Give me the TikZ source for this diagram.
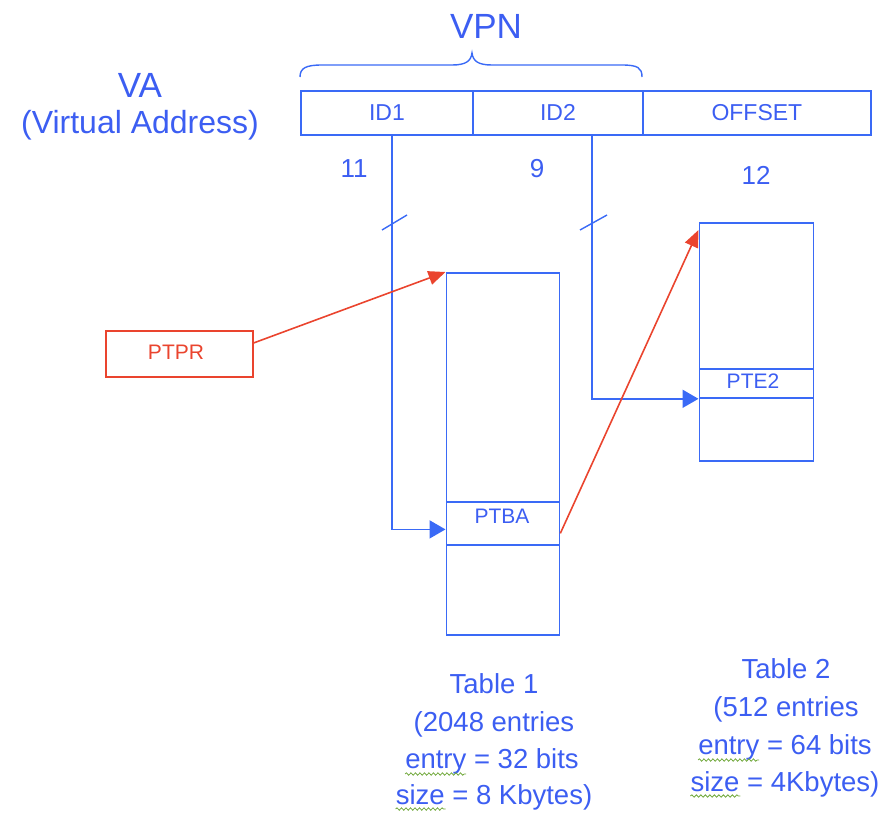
\documentclass[tikz,border=0pt]{standalone}
\usepackage{fontspec}
\setmainfont{Liberation Sans}
\usetikzlibrary{arrows.meta,decorations.pathmorphing}

\definecolor{lineblue}{RGB}{58,106,246}
\definecolor{textblue}{RGB}{60,94,242}
\definecolor{ptred}{RGB}{234,68,46}
\definecolor{spellgreen}{RGB}{112,168,58}
\newcommand\fsz[1]{\fontsize{#1}{#1}\selectfont}

\begin{document}
\begin{tikzpicture}[x=1pt,y=-1pt,
  field/.style={draw=lineblue,line width=1.8pt,minimum height=44pt,inner sep=0pt,
                anchor=north west,text=textblue,font=\fsz{23}},
  tbl/.style={draw=lineblue,line width=1.8pt,inner sep=0pt,anchor=north west},
  lbl/.style={text=textblue,inner sep=0pt,anchor=base},
  redlbl/.style={text=ptred,inner sep=0pt,anchor=base,font=\fsz{21}},
  redbox/.style={draw=ptred,line width=1.8pt,inner sep=0pt,anchor=north west},
  bluelink/.style={draw=lineblue,line width=1.8pt,-{Triangle[length=16pt,width=18pt]}},
  redlink/.style={draw=ptred,line width=1.6pt,-{Triangle[length=17pt,width=14pt]}},
  squig/.style={draw=spellgreen,line width=0.8pt,decorate,
                decoration={snake,segment length=4.5pt,amplitude=1.2pt}},
  tick/.style={draw=lineblue,line width=1.4pt}]
\useasboundingbox (0,0) rectangle (894,812);

% virtual address register
\node[field,minimum width=172pt] (id1) at (300,90) {ID1};
\node[field,minimum width=170pt] (id2) at (472,90) {ID2};
\node[field,minimum width=228pt] (off) at (642,90) {OFFSET};

\node[lbl,font=\fsz{35}] (va) at (140,97) {VA};
\node[lbl,font=\fsz{32}] (vafull) at (140,133) {(Virtual Address)};

% brace over the VPN part
\draw[lineblue,line width=1.4pt]
  (300,77) .. controls (300,68) and (306,65) .. (322,65) -- (452,65)
  .. controls (466,65) and (471,61) .. (472,53)
  .. controls (473,61) and (478,65) .. (492,65) -- (622,65)
  .. controls (638,65) and (642,68) .. (642,77);
\node[lbl,font=\fsz{35}] (vpn) at (486,38) {VPN};

% field widths
\node[lbl,font=\fsz{26}] (w1) at (354,177) {11};
\node[lbl,font=\fsz{26}] (w2) at (537,177) {9};
\node[lbl,font=\fsz{26}] (w3) at (756,184) {12};

% page tables
\node[tbl,minimum width=113pt,minimum height=362pt] (t1) at (445.5,272) {};
\node[tbl,minimum width=113pt,minimum height=43pt] (ptba) at (445.5,501) {};
\node[lbl,font=\fsz{21}] (ptbatxt) at (502,523) {PTBA};

\node[tbl,minimum width=114pt,minimum height=238pt] (t2) at (698.5,222) {};
\node[tbl,minimum width=114pt,minimum height=29pt] (pte2) at (698.5,368) {};
\node[lbl,font=\fsz{21}] (pte2txt) at (753,388) {PTE2};

% base register
\node[redbox,minimum width=147pt,minimum height=46pt] (ptpr) at (105,330) {};
\node[redlbl] (ptprtxt) at (176,359) {PTPR};

% index lines out of the address
\coordinate (d1) at (392,134);
\coordinate (d2) at (592,134);
\draw[bluelink] (d1) |- ([yshift=-6pt]ptba.west);
\draw[bluelink] (d2) |- (pte2.south west);
\draw[tick] (382,230) -- (407,215);
\draw[tick] (580,230) -- (607,215);

% pointer chain
\draw[redlink] ([yshift=11pt]ptpr.east) -- (t1.north west);
\draw[redlink] ([yshift=-10pt]ptba.east) -- ([yshift=-8pt]t2.north west);

% table captions
\begin{scope}[every node/.style={lbl,font=\fsz{27.5}}]
  \node (c1a) at (494,693) {Table 1};
  \node (c1b) at (494,731) {(2048 entries};
  \node (c1c) at (492,768) {entry = 32 bits};
  \node (c1d) at (494,804) {size = 8 Kbytes)};
  \node (c2a) at (786,678) {Table 2};
  \node (c2b) at (786,716) {(512 entries};
  \node (c2c) at (785,754) {entry = 64 bits};
  \node (c2d) at (785,791) {size = 4Kbytes)};
\end{scope}
\draw[squig] ([yshift=-6pt]c1c.base west) -- ++(61,0);
\draw[squig] ([yshift=-5pt]c1d.base west) -- ++(50,0);
\draw[squig] ([yshift=-6pt]c2c.base west) -- ++(61,0);
\draw[squig] ([yshift=-5pt]c2d.base west) -- ++(50,0);
\end{tikzpicture}
\end{document}
